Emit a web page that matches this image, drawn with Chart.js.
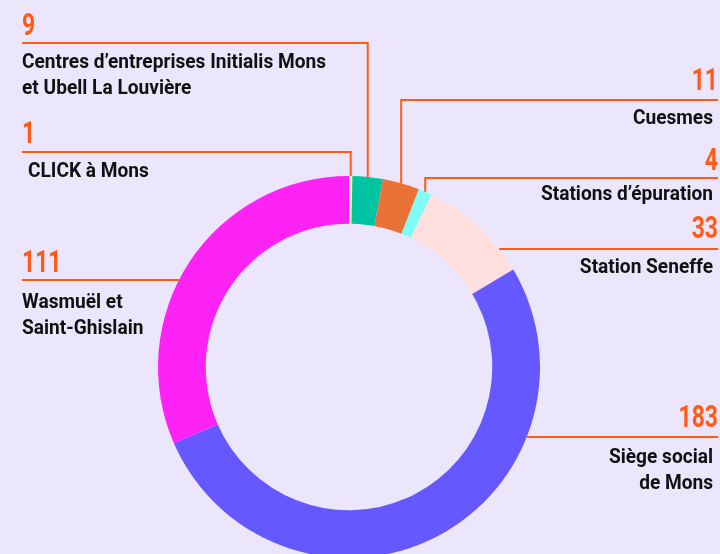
<!DOCTYPE html>
<html>
<head>
<meta charset="utf-8">
<script src="https://cdn.jsdelivr.net/npm/chart.js@4/dist/chart.umd.min.js"></script>
<style>
  html, body { margin: 0; padding: 0; background: #ece6fc; overflow: hidden; width: 720px; height: 554px; }
  #wrap { position: absolute; left: 0; top: 0; width: 720px; height: 560px; }
</style>
</head>
<body>
<div id="wrap"><canvas id="c" width="720" height="560"></canvas></div>
<script>
// ---- data ----
const categories = [
  "CLICK à Mons",
  "Centres d’entreprises Initialis Mons\net Ubell La Louvière",
  "Cuesmes",
  "Stations d’épuration",
  "Station Seneffe",
  "Siège social\nde Mons",
  "Wasmuël et\nSaint-Ghislain"
];
const values = [1, 9, 11, 4, 33, 183, 111];
const segmentColors = ["#e9f5a6", "#00c4a1", "#e97337", "#80fbf6", "#ffdede", "#6658ff", "#ff22f5"];

// ---- label layout (positions only) ----
const labelLayout = [
  { side: 'left',  numY: 143, lineY: 152, textY: 177, textX: 28, kind: 'vertical' },
  { side: 'left',  numY: 35,  lineY: 43,  textY: 68,  textX: 22, kind: 'vertical' },
  { side: 'right', numY: 90,  lineY: 100, textY: 124, kind: 'vertical' },
  { side: 'right', numY: 170, lineY: 178, textY: 200, kind: 'vertical' },
  { side: 'right', numY: 238, lineY: 249, textY: 273, kind: 'edge' },
  { side: 'right', numY: 427, lineY: 437, textY: 463, kind: 'edge' },
  { side: 'left',  numY: 272, lineY: 280, textY: 308, textX: 22, kind: 'edge' }
];

const ORANGE = "#ff5b17";
const FONT = "Roboto, 'Liberation Sans', sans-serif";

function narrowText(ctx, text, x, y, sx) {
  ctx.save();
  ctx.translate(x, y);
  ctx.scale(sx, 1);
  ctx.fillText(text, 0, 0);
  ctx.restore();
}

const labelPlugin = {
  id: 'leaderLabels',
  afterDraw(chart) {
    const ctx = chart.ctx;
    const meta = chart.getDatasetMeta(0);
    ctx.save();
    meta.data.forEach((arc, i) => {
      const L = labelLayout[i];
      const p = arc.getProps(['x', 'y', 'startAngle', 'endAngle', 'outerRadius'], true);
      const cx = p.x, cy = p.y, R = p.outerRadius;
      const mid = (p.startAngle + p.endAngle) / 2;
      const leftX = 22, rightX = 718;
      let x0, segPoint = null;
      if (L.kind === 'vertical') {
        x0 = cx + R * Math.cos(mid);
        segPoint = { x: x0, y: cy + R * Math.sin(mid) };
      } else {
        const dy = L.lineY - cy;
        const dx = Math.sqrt(Math.max(0, R * R - dy * dy));
        x0 = L.side === 'left' ? cx - dx : cx + dx;
      }
      ctx.strokeStyle = ORANGE;
      ctx.lineWidth = 2;
      ctx.beginPath();
      if (segPoint) {
        ctx.moveTo(segPoint.x, segPoint.y);
        ctx.lineTo(x0, L.lineY);
      } else {
        ctx.moveTo(x0, L.lineY);
      }
      ctx.lineTo(L.side === 'left' ? leftX : rightX, L.lineY);
      ctx.stroke();

      ctx.textBaseline = 'alphabetic';
      ctx.textAlign = L.side === 'left' ? 'left' : 'right';
      // number
      ctx.fillStyle = ORANGE;
      ctx.font = "bold 31px " + FONT;
      narrowText(ctx, String(values[i]), L.side === 'left' ? leftX : 718, L.numY, 0.74);

      // label
      ctx.fillStyle = "#111111";
      ctx.font = "bold 21px " + FONT;
      const lines = categories[i].split("\n");
      lines.forEach((t, k) => {
        narrowText(ctx, t, L.side === 'left' ? (L.textX || leftX) : 713, L.textY + k * 26, 0.91);
      });
    });
    ctx.restore();
  }
};

new Chart(document.getElementById('c'), {
  type: 'doughnut',
  data: {
    labels: categories,
    datasets: [{
      data: values,
      backgroundColor: segmentColors,
      borderWidth: 0
    }]
  },
  options: {
    responsive: false,
    devicePixelRatio: 1,
    animation: false,
    cutout: '75%',
    layout: { padding: { top: 176, bottom: 2, left: 158, right: 180 } },
    plugins: { legend: { display: false }, tooltip: { enabled: false } }
  },
  plugins: [labelPlugin]
});
</script>
</body>
</html>
